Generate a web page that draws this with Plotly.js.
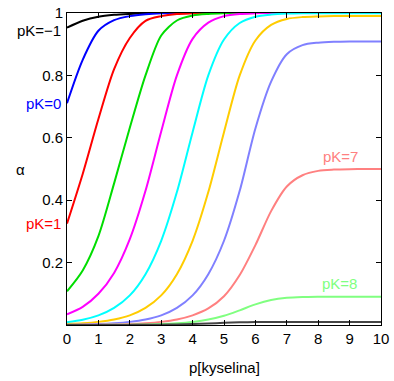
<!DOCTYPE html>
<html>
<head>
<meta charset="utf-8">
<script src="https://cdn.plot.ly/plotly-3.0.1.min.js"></script>
<style>html,body{margin:0;padding:0;background:#fff;}#chart{width:394px;height:381px;}</style>
</head>
<body>
<div id="chart"></div>
<script>
const pAcid = [0,0.5,1,1.5,2,2.5,3,3.5,4,4.5,5,5.5,6,6.5,7,7.5,8,8.5,9,9.5,10];

const pKLabels = ['pK=−1','pK=0','pK=1','pK=2','pK=3','pK=4','pK=5','pK=6','pK=7','pK=8','pK=9'];
const seriesColors = ['#000000','#0000ff','#ff0000','#00dd00','#ff00ff','#00ffff','#ffcc00','#8080ff','#ff8080','#80ff80','#444444'];

const alphaPKm1 = [0.953,0.975,0.988,0.994,0.997,0.999,1,1,1,1,1,1,1,1,1,1,1,1,1,1,1];
const alphaPK0  = [0.711,0.85,0.943,0.977,0.990,0.996,0.999,1,1,1,1,1,1,1,1,1,1,1,1,1,1];
const alphaPK1  = [0.325,0.484,0.66,0.82,0.92,0.975,0.99,0.997,0.999,1,1,1,1,1,1,1,1,1,1,1,1];
const alphaPK2  = [0.108,0.175,0.285,0.454,0.632,0.80,0.928,0.976,0.992,0.997,0.999,1,1,1,1,1,1,1,1,1,1];
const alphaPK3  = [0.034,0.058,0.10,0.167,0.275,0.43,0.62,0.80,0.917,0.969,0.99,0.997,0.999,1,1,1,1,1,1,1,1];
const alphaPK4  = [0.009,0.017,0.031,0.055,0.095,0.163,0.27,0.426,0.618,0.80,0.915,0.968,0.988,0.995,0.998,0.999,0.999,0.999,0.999,0.999,0.999];
const alphaPK5  = [0.003,0.0056,0.01,0.0176,0.031,0.055,0.095,0.163,0.27,0.426,0.618,0.80,0.912,0.962,0.981,0.987,0.989,0.990,0.990,0.990,0.990];
const alphaPK6  = [0.001,0.0018,0.003,0.0056,0.01,0.0176,0.031,0.055,0.095,0.163,0.27,0.43,0.63,0.78,0.868,0.897,0.905,0.908,0.909,0.909,0.909];
const alphaPK7  = [0.0003,0.0006,0.001,0.0018,0.003,0.0056,0.01,0.0176,0.031,0.053,0.092,0.16,0.256,0.365,0.444,0.48,0.494,0.498,0.4995,0.5,0.5];
const alphaPK8  = [0.0001,0.0002,0.0003,0.0006,0.001,0.0018,0.0031,0.0056,0.0099,0.0173,0.0294,0.047,0.066,0.080,0.087,0.0896,0.0905,0.0908,0.0909,0.0909,0.0909];
const alphaPK9  = [0.00003,0.00006,0.0001,0.0002,0.0003,0.0006,0.001,0.0018,0.003,0.0049,0.007,0.0087,0.0095,0.0097,0.0098,0.0099,0.0099,0.0099,0.0099,0.0099,0.0099];

const allSeries = [alphaPKm1,alphaPK0,alphaPK1,alphaPK2,alphaPK3,alphaPK4,alphaPK5,alphaPK6,alphaPK7,alphaPK8,alphaPK9];

const yTickVals = [0.2,0.4,0.6,0.8,1];
const yTickText = ['0.2','0.4','0.6','0.8','1'];
const xTickVals = [0,1,2,3,4,5,6,7,8,9,10];

const traces = allSeries.map((ys, i) => ({
  x: pAcid, y: ys, type: 'scatter', mode: 'lines', name: pKLabels[i],
  line: {color: seriesColors[i], width: 2, shape: 'spline', smoothing: 0.8},
  hoverinfo: 'skip'
}));

const FONT = 'Liberation Sans, Arial, sans-serif';

const layout = {
  width: 394, height: 381,
  margin: {l: 67, r: 13, t: 13, b: 56},
  paper_bgcolor: '#fff', plot_bgcolor: '#fff',
  showlegend: false,
  font: {family: FONT, size: 15, color: '#000'},
  xaxis: {
    range: [0, 10], tickvals: xTickVals, ticks: 'inside', ticklen: 5, tickwidth: 1,
    tickcolor: '#000', showline: true, linecolor: '#000', linewidth: 1, mirror: 'ticks',
    showgrid: false, zeroline: false, tickfont: {family: FONT, size: 15}
  },
  yaxis: {
    range: [0, 1], tickvals: yTickVals, ticktext: yTickText, ticks: 'inside', ticklen: 5, tickwidth: 1,
    tickcolor: '#000', showline: true, linecolor: '#000', linewidth: 1, mirror: 'ticks',
    showgrid: false, zeroline: false, tickfont: {family: FONT, size: 15}
  },
  annotations: [
    {xref: 'paper', yref: 'paper', x: -0.149, y: 0.498, text: 'α', xanchor: 'center', yanchor: 'middle', showarrow: false, font: {size: 15}},
    {xref: 'paper', yref: 'paper', x: 0.5, y: -0.136, text: 'p[kyselina]', xanchor: 'center', yanchor: 'middle', showarrow: false, font: {size: 15}},
    {xref: 'paper', yref: 'y', x: -0.012, y: 0.944, text: pKLabels[0], xanchor: 'right', yanchor: 'middle', showarrow: false, font: {size: 15, color: seriesColors[0]}},
    {xref: 'paper', yref: 'y', x: -0.012, y: alphaPK0[0], text: pKLabels[1], xanchor: 'right', yanchor: 'middle', showarrow: false, font: {size: 15, color: seriesColors[1]}},
    {xref: 'paper', yref: 'y', x: -0.012, y: alphaPK1[0], text: pKLabels[2], xanchor: 'right', yanchor: 'middle', showarrow: false, font: {size: 15, color: seriesColors[2]}},
    {xref: 'x', yref: 'y', x: 8.7, y: 0.539, text: pKLabels[8], xanchor: 'center', yanchor: 'middle', showarrow: false, font: {size: 15, color: seriesColors[8]}},
    {xref: 'x', yref: 'y', x: 8.67, y: 0.133, text: pKLabels[9], xanchor: 'center', yanchor: 'middle', showarrow: false, font: {size: 15, color: seriesColors[9]}}
  ]
};

Plotly.newPlot('chart', traces, layout, {staticPlot: true, displayModeBar: false});
</script>
</body>
</html>
